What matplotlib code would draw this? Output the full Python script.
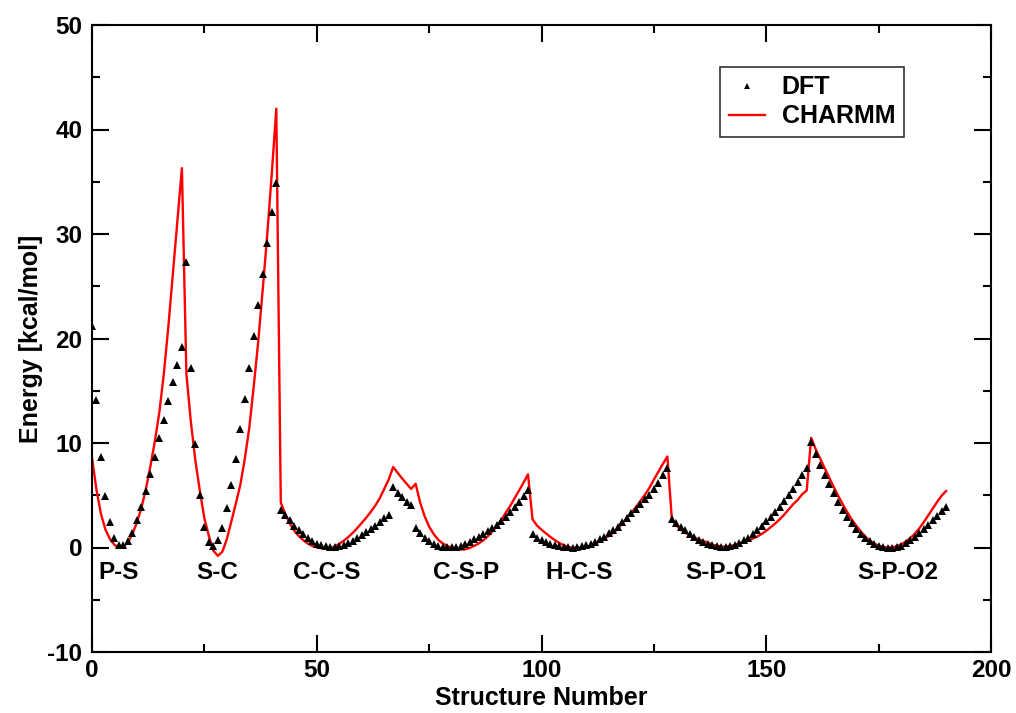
import numpy as np
import matplotlib
matplotlib.use("Agg")
import matplotlib.pyplot as plt
from matplotlib.ticker import MultipleLocator

# ---------------- data ----------------
dft_ps = [21.2, 14.1, 8.7, 4.9, 2.4, 0.9, 0.2, 0.2, 0.6, 1.4, 2.6, 3.9, 5.4, 7.0, 8.7, 10.5, 12.2, 14.0, 15.8, 17.5, 19.2]
dft_sc = [27.3, 17.2, 9.9, 5.0, 2.0, 0.5, 0.1, 0.7, 1.9, 3.8, 6.0, 8.5, 11.3, 14.2, 17.2, 20.2, 23.2, 26.2, 29.1, 32.1, 34.9]
dft_ccs = [3.6, 3.1, 2.6, 2.1, 1.65, 1.25, 0.9, 0.6, 0.38, 0.22, 0.12, 0.07, 0.08, 0.15, 0.27, 0.43, 0.63, 0.88, 1.15, 1.45, 1.75, 2.1, 2.45, 2.8, 3.1]
dft_csp = [5.75, 5.25, 4.8, 4.4, 4.05, 1.9, 1.4, 0.95, 0.6, 0.35, 0.18, 0.08, 0.03, 0.02, 0.07, 0.18, 0.33, 0.55, 0.78, 1.03, 1.3, 1.6, 1.9, 2.2, 2.55, 2.95, 3.4, 3.9, 4.4, 4.95, 5.5]
dft_hcs = [1.25, 0.95, 0.7, 0.5, 0.33, 0.2, 0.1, 0.04, 0.01, 0.0, 0.03, 0.1, 0.2, 0.35, 0.55, 0.8, 1.05, 1.35, 1.65, 2.0, 2.4, 2.85, 3.3, 3.7, 4.15, 4.6, 5.05, 5.6, 6.2, 6.9, 7.6]
dft_spo1 = [2.75, 2.3, 1.95, 1.63, 1.3, 1.0, 0.75, 0.5, 0.35, 0.2, 0.1, 0.05, 0.05, 0.1, 0.25, 0.4, 0.67, 0.9, 1.25, 1.63, 2.05, 2.5, 2.96, 3.38, 3.92, 4.43, 4.98, 5.6, 6.25, 6.9, 7.6]
dft_spo2 = [10.1, 8.9, 7.9, 6.95, 6.03, 5.2, 4.4, 3.6, 2.96, 2.3, 1.79, 1.3, 0.93, 0.6, 0.35, 0.19, 0.05, 0.0, 0.0, 0.05, 0.19, 0.4, 0.67, 1.0, 1.4, 1.79, 2.2, 2.65, 3.06, 3.5, 3.92]

charmm_ps = [8.6, 5.5, 3.2, 1.7, 0.8, 0.25, 0.0, 0.05, 0.5, 1.3, 2.4, 3.8, 5.6, 7.8, 10.2, 13.0, 16.7, 21.2, 26.2, 31.2, 36.3]
charmm_sc = [16.6, 12.0, 8.3, 5.4, 2.8, 1.1, -0.3, -0.8, -0.4, 0.8, 2.5, 4.2, 6.0, 8.5, 11.5, 15.5, 19.8, 24.8, 30.0, 35.8, 42.0]
charmm_ccs = [4.3, 3.2, 2.3, 1.6, 1.1, 0.7, 0.38, 0.15, 0.0, -0.08, -0.12, -0.08, 0.1, 0.35, 0.65, 1.0, 1.4, 1.85, 2.35, 2.85, 3.4, 4.0, 4.7, 5.6, 6.5]
charmm_csp = [7.7, 7.15, 6.6, 6.1, 5.6, 6.1, 4.3, 3.0, 2.0, 1.3, 0.75, 0.4, 0.15, -0.02, -0.13, -0.2, -0.18, -0.05, 0.15, 0.38, 0.67, 1.05, 1.5, 2.0, 2.6, 3.3, 3.95, 4.7, 5.45, 6.2, 7.0]
charmm_hcs = [2.7, 2.1, 1.7, 1.35, 1.0, 0.7, 0.42, 0.2, 0.05, -0.02, -0.03, 0.0, 0.07, 0.18, 0.35, 0.6, 0.85, 1.1, 1.4, 1.8, 2.3, 2.85, 3.35, 3.85, 4.45, 5.05, 5.7, 6.5, 7.25, 8.0, 8.7]
charmm_spo1 = [2.7, 2.1, 1.7, 1.4, 1.15, 0.95, 0.78, 0.6, 0.43, 0.28, 0.16, 0.09, 0.08, 0.14, 0.25, 0.38, 0.5, 0.65, 0.85, 1.05, 1.3, 1.6, 1.95, 2.3, 2.7, 3.15, 3.65, 4.15, 4.55, 5.1, 5.45]
charmm_spo2 = [10.5, 9.4, 8.5, 7.6, 6.7, 5.8, 4.95, 4.15, 3.4, 2.7, 2.1, 1.55, 1.05, 0.68, 0.38, 0.17, 0.05, 0.0, 0.02, 0.12, 0.3, 0.55, 0.88, 1.3, 1.8, 2.4, 3.05, 3.7, 4.35, 4.95, 5.4]

segment_labels = ["P-S", "S-C", "C-C-S", "C-S-P", "H-C-S", "S-P-O1", "S-P-O2"]
segment_label_x = [6.0, 27.8, 52.2, 83.2, 108.3, 141.0, 179.2]
segment_label_y = -2.4

dft = np.array(dft_ps + dft_sc + dft_ccs + dft_csp + dft_hcs + dft_spo1 + dft_spo2)
charmm = np.array(charmm_ps + charmm_sc + charmm_ccs + charmm_csp + charmm_hcs + charmm_spo1 + charmm_spo2)
structure = np.arange(len(dft))

# ---------------- figure ----------------
plt.rcParams['font.family'] = ['Liberation Sans', 'DejaVu Sans']
plt.rcParams['font.weight'] = 'bold'
plt.rcParams['axes.unicode_minus'] = False

fig = plt.figure(figsize=(10.16, 7.13), dpi=100)
ax = fig.add_axes([92/1016, 1 - 652/713, (991 - 92)/1016, (652 - 25)/713])

ax.plot(structure, charmm, color='#ff0000', lw=1.7, label='CHARMM', zorder=2)
ax.plot(structure, dft, linestyle='none', marker='^', color='black', markersize=5.5,
        markeredgewidth=0, label='DFT', zorder=3)

ax.set_xlim(0, 200)
ax.set_ylim(-10, 50)
ax.xaxis.set_major_locator(MultipleLocator(50))
ax.xaxis.set_minor_locator(MultipleLocator(25))
ax.yaxis.set_major_locator(MultipleLocator(10))
ax.yaxis.set_minor_locator(MultipleLocator(5))

for s in ax.spines.values():
    s.set_linewidth(1.5)
ax.tick_params(which='both', direction='in', top=True, right=True, width=1.5)
ax.tick_params(which='major', length=12.5)
ax.tick_params(which='minor', length=6)
ax.tick_params(axis='x', which='major', pad=5, labelsize=17.5)
ax.tick_params(axis='y', which='major', pad=7, labelsize=17.5)
for lab in ax.get_xticklabels() + ax.get_yticklabels():
    lab.set_fontweight('bold')

ax.set_xlabel('Structure Number', fontsize=18, fontweight='bold', labelpad=3)
ax.set_ylabel('Energy [kcal/mol]', fontsize=18, fontweight='bold', labelpad=3)

for lab, lx in zip(segment_labels, segment_label_x):
    ax.text(lx, segment_label_y, lab, ha='center', va='center', fontsize=17.5, fontweight='bold')

handles, labels = ax.get_legend_handles_labels()
order = [1, 0]
leg = ax.legend([handles[i] for i in order], [labels[i] for i in order],
                loc='upper left', bbox_to_anchor=(0.699, 0.9335), borderaxespad=0,
                fontsize=18, frameon=True, fancybox=False, edgecolor='black',
                handlelength=1.45, handletextpad=0.65, labelspacing=0.2,
                borderpad=0.35, markerscale=0.7)
leg.get_frame().set_linewidth(1.2)
for t in leg.get_texts():
    t.set_fontweight('bold')

fig.savefig('out.png', dpi=100)
